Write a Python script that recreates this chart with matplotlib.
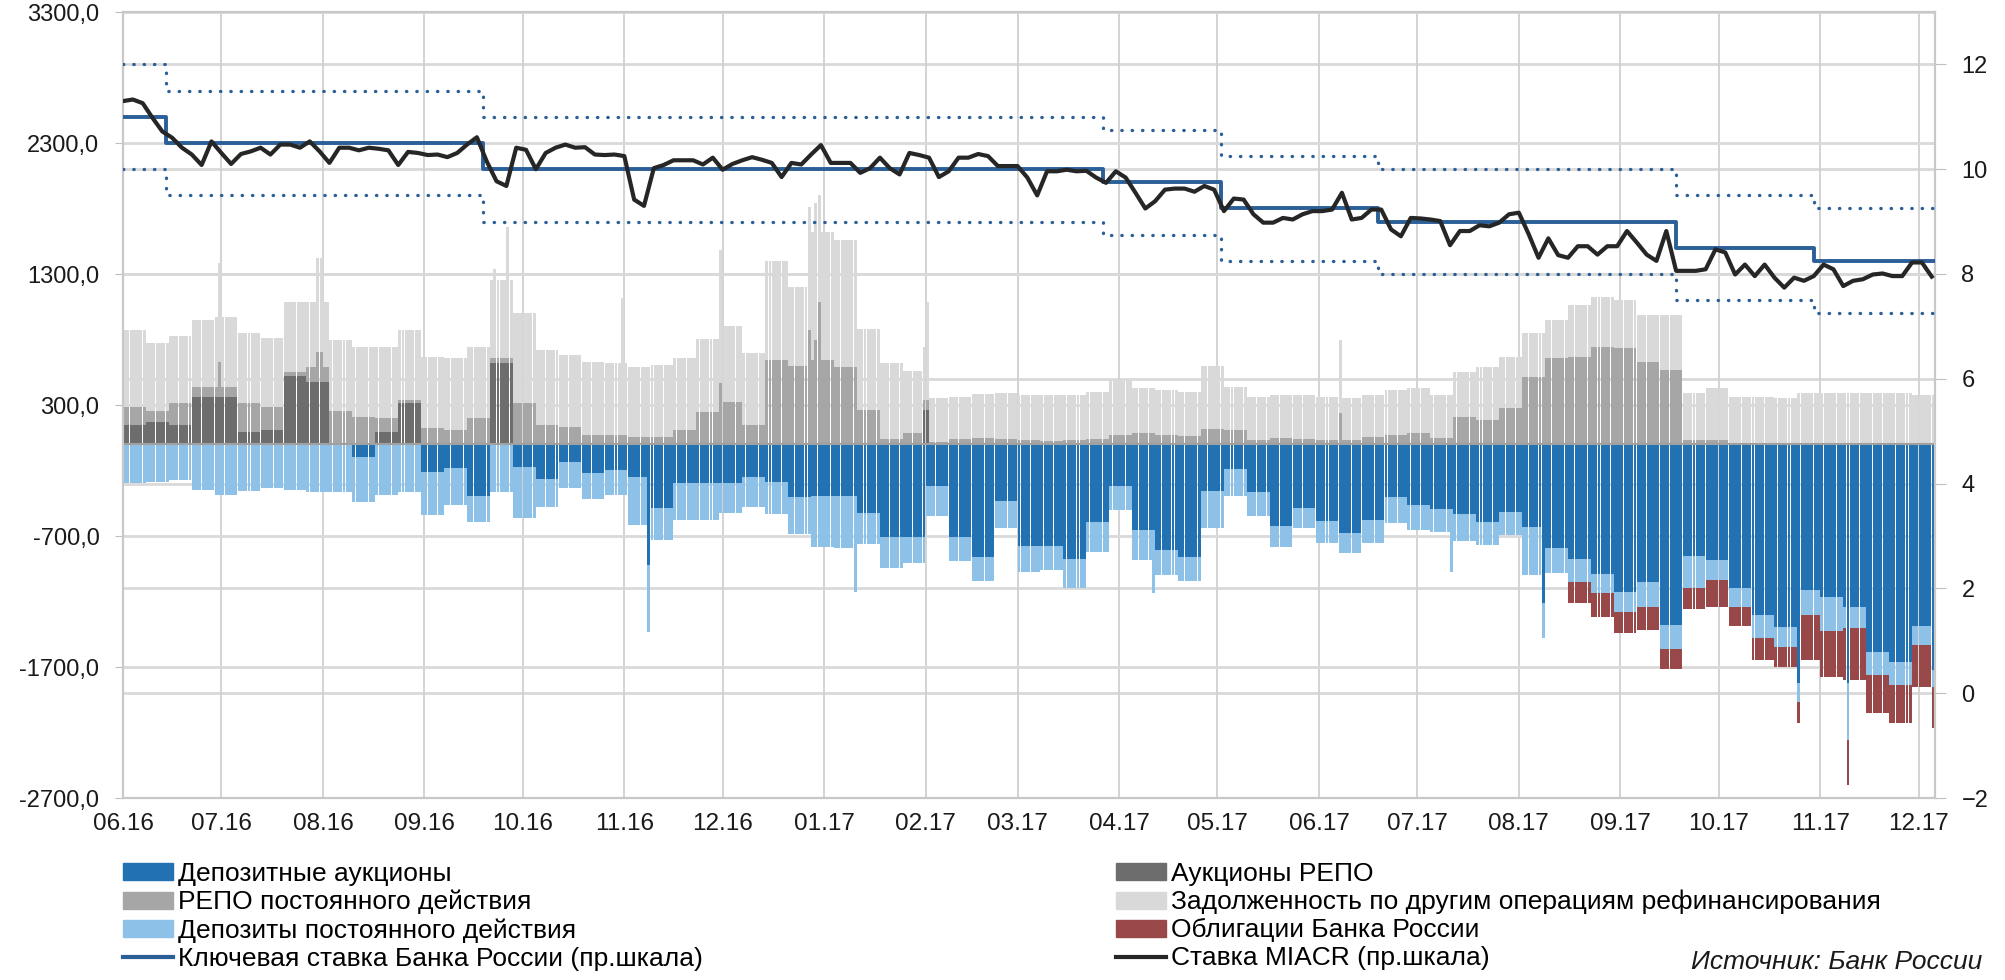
import matplotlib
matplotlib.use("Agg")
import matplotlib.pyplot as plt
import matplotlib.dates as mdates
from matplotlib.lines import Line2D
from matplotlib.patches import Patch
from matplotlib.ticker import FuncFormatter
import numpy as np
import pandas as pd

plt.rcParams["font.family"] = ["Liberation Sans", "DejaVu Sans"]

START = "2016-06-01"
END = "2017-12-06"

# ---- weekly values, bn rub (each value holds 7 days, weeks start on 2016-06-01) ----
auc_repo = [147, 172, 147, 358, 363, 91, 109, 521, 477, 0, 0, 91, 312, 0, 0, 0, 617,
            0, 0, 0, 0, 0, 0, 0, 0, 0, 0, 0, 0, 0, 0, 0, 0, 0, 0, 0, 0, 0, 0, 0,
            0, 0, 0, 0, 0, 0, 0, 0, 0, 0, 0, 0, 0, 0, 0, 0, 0, 0, 0, 0, 0, 0, 0,
            0, 0, 0, 0, 0, 0, 0, 0, 0, 0, 0, 0, 0, 0, 0, 0]
repo_standing = [135, 84, 165, 81, 76, 221, 178, 33, 115, 256, 210, 106, 25, 121, 109, 197,
                 39, 312, 147, 134, 71, 71, 53, 58, 109, 250, 320, 150, 640, 600, 640, 590,
                 260, 40, 90, 15, 38, 45, 38, 33, 28, 30, 40, 71, 84, 71, 60, 120, 109, 33,
                 45, 40, 35, 30, 58, 71, 84, 45, 211, 185, 274, 516, 656, 669, 745, 732,
                 631, 567, 33, 33, 13, 13, 10, 10, 10, 10, 10, 10, 10]
other_refin = [590, 514, 514, 509, 535, 534, 521, 529, 496, 540, 535, 548, 535, 548, 547, 548,
               598, 687, 572, 547, 559, 546, 539, 547, 547, 550, 580, 550, 760, 600, 980, 970,
               620, 580, 470, 335, 325, 338, 350, 343, 348, 346, 361, 429, 342, 343, 341, 480,
               330, 330, 331, 336, 328, 320, 318, 343, 342, 331, 343, 407, 395, 330, 292, 394,
               381, 369, 356, 419, 355, 393, 350, 345, 340, 378, 383, 378, 378, 378, 366]
dep_auctions = [0, 0, 0, 0, 0, 0, 0, 0, 0, 0, -94, 0, 0, -209, -184, -395, 0, -171, -267,
                -133, -217, -196, -247, -489, -298, -298, -293, -252, -285, -405, -395, -395,
                -522, -710, -705, -316, -705, -863, -433, -777, -777, -876, -596, -316, -654,
                -807, -863, -357, -189, -362, -624, -489, -583, -680, -578, -405, -464, -497,
                -535, -591, -517, -629, -794, -879, -990, -1125, -1049, -1380, -850, -883,
                -1100, -1300, -1392, -1112, -1163, -1245, -1588, -1665, -1385]
dep_standing = [-298, -285, -273, -349, -387, -354, -336, -349, -362, -362, -344, -387, -362,
                -331, -280, -196, -362, -394, -209, -203, -203, -191, -369, -242, -280, -280,
                -234, -229, -247, -280, -392, -399, -239, -237, -204, -232, -184, -178, -209,
                -196, -183, -224, -224, -186, -230, -191, -178, -285, -203, -186, -163, -153,
                -168, -152, -173, -198, -190, -170, -201, -178, -176, -369, -191, -170, -148,
                -153, -191, -186, -250, -153, -140, -180, -153, -191, -263, -160, -173, -173,
                -148]
cbr_bonds = [0] * 63 + [-165, -178, -165, -178, -152, -160, -204, -150, -170, -153, -344,
                        -348, -395, -293, -292, -318]

# ---- single-day outliers ----
auc_repo_days = {"2017-01-31": 262, "2017-02-01": 262}
repo_standing_days = {"2016-06-30": 267, "2016-07-30": 224, "2016-07-31": 224,
                      "2016-11-30": 467, "2016-12-27": 872, "2016-12-29": 796,
                      "2016-12-30": 1089, "2017-01-31": 76, "2017-02-01": 76,
                      "2017-06-07": 237}
other_refin_days = {"2016-06-30": 751, "2016-07-30": 718, "2016-07-31": 718,
                    "2016-09-22": 684, "2016-09-26": 1005, "2016-10-31": 1043,
                    "2016-11-30": 1016, "2016-12-27": 942, "2016-12-29": 1043,
                    "2016-12-30": 814, "2017-01-31": 407, "2017-02-01": 751,
                    "2017-06-07": 558}
dep_auctions_days = {"2016-11-08": -921, "2017-08-08": -1214, "2017-10-25": -1825,
                     "2017-11-09": -1825, "2017-12-05": -1723}
dep_standing_days = {"2016-11-08": -510, "2017-01-10": -730, "2017-04-11": -484,
                     "2017-07-11": -476, "2017-08-08": -267, "2017-10-25": -140,
                     "2017-11-09": -433, "2017-12-05": -127}
cbr_bonds_days = {"2017-10-25": -165, "2017-11-09": -343, "2017-12-05": -319}

# ---- rates, % (right scale) ----
key_dates = ["2016-06-01", "2016-06-14", "2016-09-19", "2017-03-27", "2017-05-02",
             "2017-06-19", "2017-09-18", "2017-10-30"]
key_rate = [11.0, 10.5, 10.0, 9.75, 9.25, 9.0, 8.5, 8.25]
corridor_up = [12.0, 11.5, 11.0, 10.75, 10.25, 10.0, 9.5, 9.25]
corridor_low = [10.0, 9.5, 9.0, 8.75, 8.25, 8.0, 7.5, 7.25]

# MIACR, every 3 days from 2016-06-01
miacr = [11.30, 11.33, 11.26, 10.98, 10.72, 10.60, 10.41, 10.28, 10.08, 10.53, 10.31, 10.10,
         10.29, 10.34, 10.41, 10.28, 10.47, 10.47, 10.41, 10.53, 10.34, 10.12, 10.41, 10.41,
         10.36, 10.41, 10.39, 10.36, 10.08, 10.33, 10.31, 10.27, 10.28, 10.23, 10.31, 10.47,
         10.61, 10.15, 9.77, 9.68, 10.41, 10.37, 10.00, 10.31, 10.41, 10.47, 10.41, 10.42,
         10.28, 10.27, 10.28, 10.25, 9.42, 9.30, 10.02, 10.08, 10.17, 10.17, 10.17,
         10.09, 10.22, 9.99, 10.10, 10.17, 10.23, 10.18, 10.12, 9.85, 10.12, 10.09, 10.28,
         10.46, 10.12, 10.12, 10.12, 9.93, 10.02, 10.22, 10.02, 9.90, 10.31, 10.27, 10.22,
         9.85, 9.96, 10.22, 10.22, 10.29, 10.25, 10.06, 10.06, 10.06, 9.84, 9.50, 9.96,
         9.96, 9.99, 9.96, 9.97, 9.84, 9.74, 9.96, 9.84, 9.55, 9.25, 9.39, 9.61, 9.63, 9.63,
         9.57, 9.68, 9.61, 9.20, 9.44, 9.42, 9.14, 8.98, 8.98, 9.07, 9.04, 9.14, 9.20, 9.20,
         9.23, 9.55, 9.04, 9.07, 9.23, 9.23, 8.85,
         8.72, 9.07, 9.06, 9.04, 9.01, 8.55, 8.82, 8.82, 8.93, 8.91, 8.98, 9.14, 9.17, 8.76,
         8.31, 8.68, 8.36, 8.31, 8.53, 8.53, 8.37, 8.53, 8.53, 8.82, 8.60, 8.37, 8.25, 8.82,
         8.06, 8.06, 8.06, 8.09, 8.47, 8.41, 7.99, 8.18, 7.96, 8.18, 7.93, 7.74, 7.93, 7.87,
         7.96, 8.18, 8.09, 7.77, 7.87, 7.90, 7.99, 8.01, 7.96, 7.96, 8.22, 8.22, 7.95]

labels = ["Депозитные аукционы", "РЕПО постоянного действия",
          "Депозиты постоянного действия", "Ключевая ставка Банка России (пр.шкала)",
          "Аукционы РЕПО", "Задолженность по другим операциям рефинансирования",
          "Облигации Банка России", "Ставка MIACR (пр.шкала)"]

C_DEP_AUC = "#2271b3"
C_DEP_ST = "#8ec1e8"
C_AUC_REPO = "#6d6d6d"
C_REPO_ST = "#a6a6a6"
C_OTHER = "#d9d9d9"
C_BONDS = "#984848"
C_KEY = "#2b5f97"
C_MIACR = "#262626"
C_GRID = "#d9d9d9"

L_MIN, L_MAX = -2700, 3300
R_MIN, R_MAX = -2, 13

days = pd.date_range(START, periods=len(auc_repo) * 7, freq="D")


def daily(weekly, overrides):
    s = pd.Series(np.repeat(np.asarray(weekly, dtype=float), 7), index=days)
    for d, v in overrides.items():
        s[pd.Timestamp(d)] = v
    return s.values


a_repo = daily(auc_repo, auc_repo_days)
r_st = daily(repo_standing, repo_standing_days)
oth = daily(other_refin, other_refin_days)
d_auc = daily(dep_auctions, dep_auctions_days)
d_st = daily(dep_standing, dep_standing_days)
bonds = daily(cbr_bonds, cbr_bonds_days)

fig = plt.figure(figsize=(20.05, 9.8), dpi=100)
ax = fig.add_axes([123 / 2005, 1 - 798 / 980, (1935 - 123) / 2005, (798 - 12) / 980])
ax2 = ax.twinx()

bar_kw = dict(width=0.9, align="edge", linewidth=0, zorder=2)
ax.bar(days, a_repo, color=C_AUC_REPO, **bar_kw)
ax.bar(days, r_st, bottom=a_repo, color=C_REPO_ST, **bar_kw)
ax.bar(days, oth, bottom=a_repo + r_st, color=C_OTHER, **bar_kw)
ax.bar(days, d_auc, color=C_DEP_AUC, **bar_kw)
ax.bar(days, d_st, bottom=d_auc, color=C_DEP_ST, **bar_kw)
ax.bar(days, bonds, bottom=d_auc + d_st, color=C_BONDS, **bar_kw)
ax.axhline(0, color="#a0a0a0", lw=1.5, zorder=3)

# grid: left-scale lines, right-scale lines, months
ax.set_ylim(L_MIN, L_MAX)
ax.set_yticks(np.arange(L_MIN, L_MAX + 1, 1000))
ax.yaxis.set_major_formatter(FuncFormatter(lambda v, p: f"{v:.1f}".replace(".", ",")))
ax.grid(axis="y", color=C_GRID, lw=2, zorder=0)
right_ticks = np.arange(R_MIN, 13, 2)
for r in right_ticks:
    ax.axhline(L_MIN + (r - R_MIN) * (L_MAX - L_MIN) / (R_MAX - R_MIN),
               color=C_GRID, lw=2, zorder=0)
ax.set_axisbelow(True)

ax.set_xlim(pd.Timestamp(START), pd.Timestamp(END))
ax.xaxis.set_major_locator(mdates.MonthLocator())
ax.xaxis.set_major_formatter(mdates.DateFormatter("%m.%y"))
ax.grid(axis="x", color="#d0d0d0", lw=1.3, zorder=0)

# rates
kd = pd.to_datetime(key_dates + [END])
ax2.step(kd, corridor_up + corridor_up[-1:], where="post", color=C_KEY, lw=2.4,
         linestyle=(0, (0.1, 3.0)), dash_capstyle="round", zorder=4)
ax2.step(kd, corridor_low + corridor_low[-1:], where="post", color=C_KEY, lw=2.4,
         linestyle=(0, (0.1, 3.0)), dash_capstyle="round", zorder=4)
ax2.step(kd, key_rate + key_rate[-1:], where="post", color=C_KEY, lw=2.8, zorder=5)
miacr_dates = pd.date_range(START, periods=len(miacr), freq="3D")
ax2.plot(miacr_dates, miacr, color=C_MIACR, lw=3, zorder=6)
ax2.set_ylim(R_MIN, R_MAX)
ax2.set_yticks(right_ticks)

for s in ["left", "right", "bottom", "top"]:
    ax.spines[s].set_color("#c8c8c8")
    ax2.spines[s].set_color("#c8c8c8")
    ax.spines[s].set_linewidth(1.5)
    ax2.spines[s].set_linewidth(1.5)

ax.tick_params(axis="y", length=6, color="#bfbfbf", labelsize=17, pad=11,
               labelcolor="#1a1a1a")
ax.tick_params(axis="x", length=0, labelsize=17.5, pad=11, labelcolor="#1a1a1a")
ax2.tick_params(axis="y", length=8, color="#bfbfbf", labelsize=17, pad=11,
                labelcolor="#1a1a1a")

# legend in two blocks
h_left = [Patch(color=C_DEP_AUC), Patch(color=C_REPO_ST), Patch(color=C_DEP_ST),
          Line2D([], [], color=C_KEY, lw=3)]
h_right = [Patch(color=C_AUC_REPO), Patch(color=C_OTHER), Patch(color=C_BONDS),
           Line2D([], [], color=C_MIACR, lw=3)]
leg_kw = dict(loc="upper left", frameon=False, fontsize=19, handlelength=1.9,
              handleheight=0.62, handletextpad=0.2, labelspacing=0.15,
              borderpad=0, borderaxespad=0)
fig.legend(h_left, labels[:4], bbox_to_anchor=(123 / 2005, 1 - 862 / 980), **leg_kw)
fig.legend(h_right, labels[4:], bbox_to_anchor=(1116 / 2005, 1 - 862 / 980), **leg_kw)
fig.text(1982 / 2005, 1 - 962 / 980, "Источник: Банк России", ha="right", va="center",
         style="italic", fontsize=19, color="#1a1a1a")

fig.savefig("out.png", dpi=100)
